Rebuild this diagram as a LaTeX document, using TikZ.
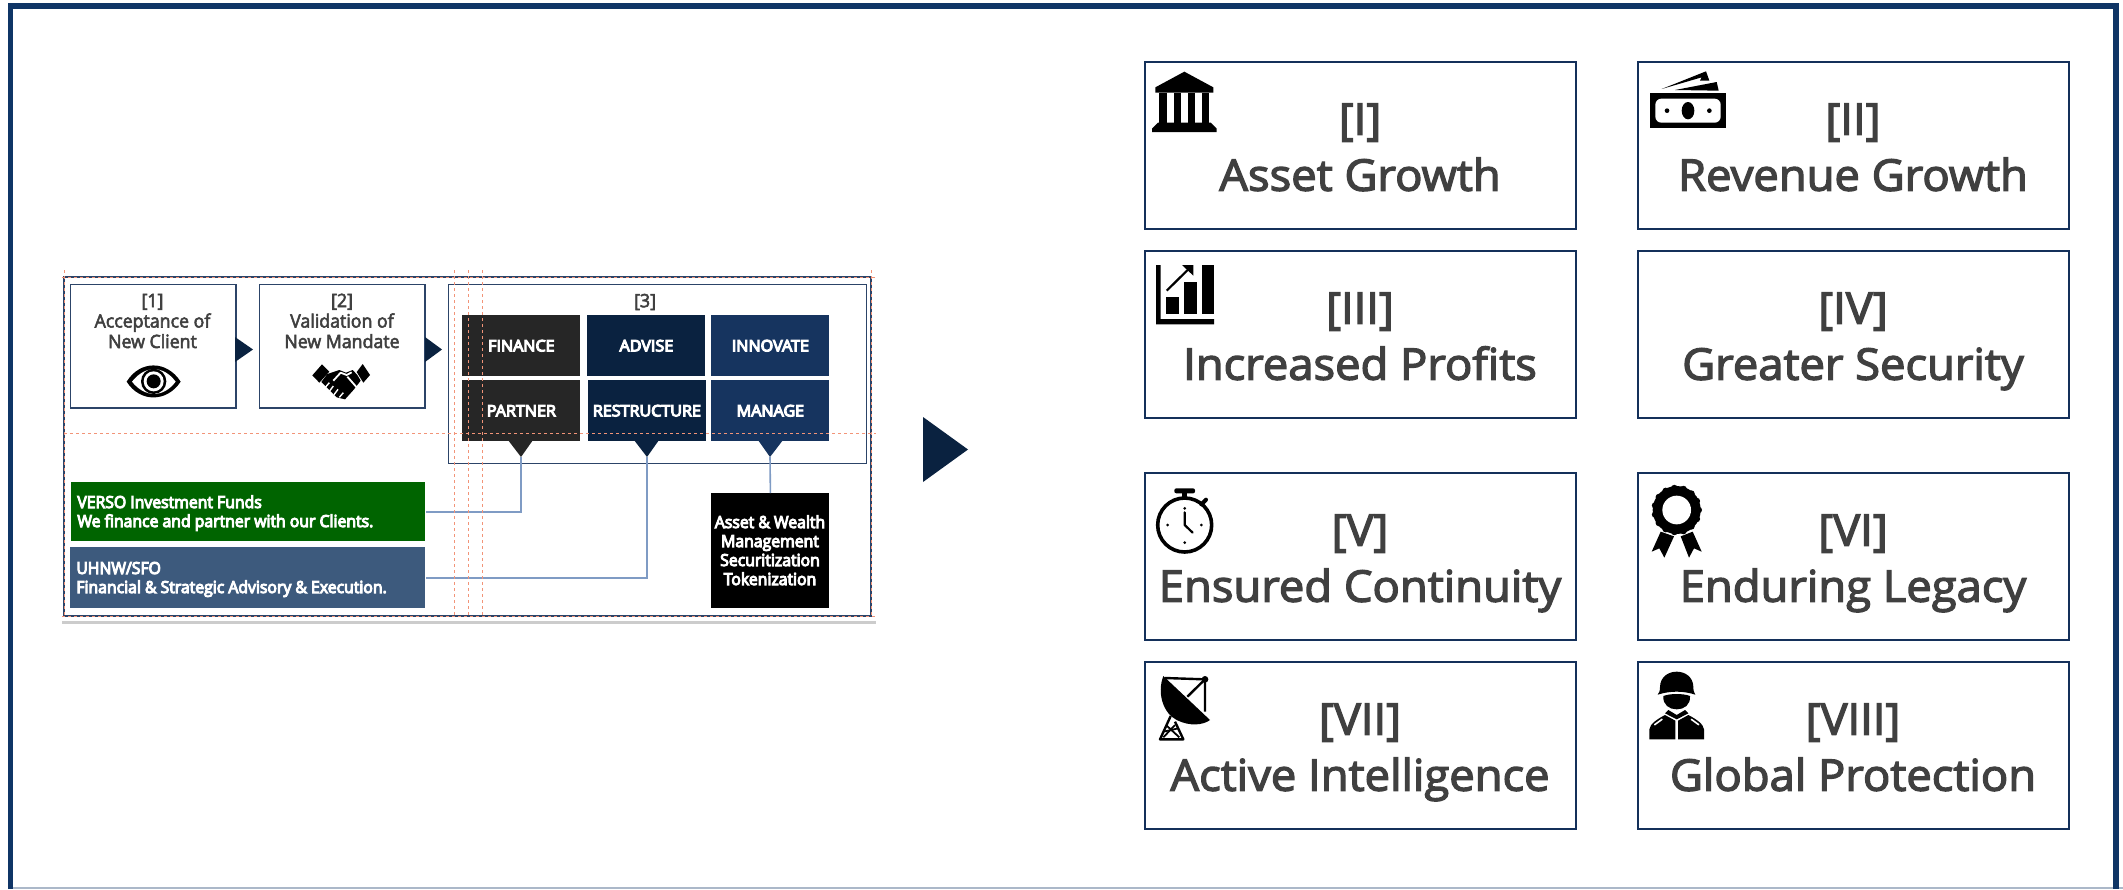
\documentclass[tikz,border=0pt]{standalone}
\usepackage{fontspec}
\setmainfont[FakeStretch=1.04,FakeBold=3]{Open Sans}
\newfontfamily\stepfont[FakeStretch=0.965,FakeBold=3]{Open Sans}
\newfontfamily\cellfont[FakeStretch=1.02,FakeBold=7]{Open Sans}
\newfontfamily\panelfont[FakeStretch=0.95,FakeBold=6]{Open Sans}
\usetikzlibrary{calc}
\definecolor{navy}{HTML}{0A2240}
\definecolor{framecol}{HTML}{0F3566}
\definecolor{cardline}{HTML}{14305A}
\definecolor{smallline}{HTML}{2C4468}
\definecolor{txtgray}{HTML}{404040}
\definecolor{cellblack}{HTML}{262626}
\definecolor{celldark}{HTML}{0A2240}
\definecolor{cellblue}{HTML}{16345F}
\definecolor{versogreen}{HTML}{006400}
\definecolor{uhnwblue}{HTML}{3D5A7D}
\definecolor{wire}{HTML}{7F9BC4}
\definecolor{guide}{HTML}{F29478}
\tikzset{
  cardbox/.style={draw=cardline,line width=1.2pt,fill=white,anchor=north west,inner sep=0pt,minimum width=215.6pt,minimum height=83.6pt},
  cardtext/.style={align=center,text=txtgray,inner sep=0pt,font=\fontsize{21.8}{28}\selectfont},
  stepbox/.style={draw=smallline,line width=.7pt,fill=white,anchor=north west,inner sep=0pt,minimum width=82.6pt,minimum height=61.6pt},
  steptext/.style={align=center,text=txtgray,inner sep=0pt,font=\fontsize{9.2}{10.25}\stepfont},
  cell/.style={anchor=north west,inner sep=0pt,minimum width=59pt,minimum height=30.3pt,text=white,font=\fontsize{7.9}{9.5}\cellfont},
  panel/.style={anchor=north west,inner sep=0pt},
  paneltext/.style={text=white,inner sep=0pt,font=\fontsize{8.3}{9.5}\panelfont},
  wireline/.style={draw=wire,line width=.8pt},
  guideline/.style={draw=guide,line width=.45pt,dash pattern=on 1.6pt off 1.4pt},
  zoomicon/.style={x=0.16667pt,y=-0.16667pt}
}
\newcommand{\card}[5]{%
  \node[cardbox] (#1) at (#2,#3) {};
  \node[cardtext] (#1t) at ({#2+216.5},{#3+91}) {\strut #4\\\strut #5};
}
\begin{document}
\begin{tikzpicture}[x=0.5pt,y=-0.5pt]
\useasboundingbox (0,0) rectangle (2123,889);
\fill[white] (0,0) rectangle (2123,889);
% outer frame
\draw[draw=framecol!35!white,line width=1pt] (13,888) -- (2123,888);
\draw[framecol,line width=2.9pt] (10.5,889) -- (10.5,6) -- (2116,6) -- (2116,889);

% lower gray rule of the left panel
\draw[draw=black!20,line width=1.5pt] (62,622) -- (876,622);
% left panel frame
\draw[draw=smallline,line width=.6pt] (64,277) rectangle (871,616);

% steps
\node[stepbox] (s1) at (70,284) {};
\node[stepbox] (s2) at (259,284) {};
\node[steptext] (s1t) at (152.5,323.4) {\strut [1]\\\strut Acceptance of\\\strut New Client};
\node[steptext] (s2t) at (342,323.4) {\strut [2]\\\strut Validation of\\\strut New Mandate};
\fill[navy] (235,337) -- (253,349.5) -- (235,362) -- cycle;
\fill[navy] (425,337) -- (442,349.5) -- (425,362) -- cycle;
\node[draw=smallline,line width=.6pt,anchor=north west,inner sep=0pt,minimum width=209pt,minimum height=89.5pt] (s3) at (448,284) {};
\node[steptext] (s3t) at (645,302) {[3]};

% cells
\node[cell,fill=cellblack] (finance) at (462,315) {FINANCE};
\node[cell,fill=celldark] (advise) at (587,315) {ADVISE};
\node[cell,fill=cellblue] (innovate) at (711,315) {INNOVATE};
\node[cell,fill=cellblack] (partner) at (462,380) {PARTNER};
\node[cell,fill=celldark] (restructure) at (587.5,380) {RESTRUCTURE};
\node[cell,fill=cellblue] (manage) at (711,380) {MANAGE};
\fill[cellblack] (508,440) -- (533,440) -- (521,457) -- cycle;
\fill[celldark] (634,440) -- (659,440) -- (647,457) -- cycle;
\fill[cellblue] (758,440) -- (783,440) -- (770,457) -- cycle;
\coordinate (tipA) at (521,457);
\coordinate (tipB) at (647,457);
\coordinate (tipC) at (770,457);

% panels
\node[panel,fill=versogreen,minimum width=177pt,minimum height=29.5pt] (verso) at (71,482) {};
\node[panel,fill=uhnwblue,minimum width=177.5pt,minimum height=30.5pt] (uhnw) at (70,547) {};
\node[panel,fill=black,minimum width=59pt,minimum height=57.5pt] (wealth) at (711,493) {};
\node[paneltext,anchor=west,align=left] (versot) at (77,513.7) {\strut VERSO Investment Funds\\\strut We finance and partner with our Clients.};
\node[paneltext,anchor=west,align=left] (uhnwt) at (76,579.7) {\strut UHNW/SFO\\\strut Financial \& Strategic Advisory \& Execution.};
\node[paneltext,align=center] (wealtht) at (770,552.7) {\strut Asset \& Wealth\\\strut Management\\\strut Securitization\\\strut Tokenization};

% connectors
\draw[wireline] (tipA) |- (verso.east);
\draw[wireline] (tipB) |- (uhnw.east);
\draw[wireline] (tipC) -- (wealth.north);

% guides
\draw[guideline] (62,277) -- (876,277);
\draw[guideline] (64,433) -- (876,433);
\draw[guideline] (62,616.5) -- (876,616.5);
\draw[guideline] (64,270) -- (64,617);
\draw[guideline] (454,270) -- (454,617);
\draw[guideline] (468,270) -- (468,617);
\draw[guideline] (482,270) -- (482,617);
\draw[guideline] (871.5,270) -- (871.5,617);

% big arrow
\fill[navy] (923,417) -- (968,449.5) -- (923,482) -- cycle;

% cards
\card{c1}{1143.5}{60.5}{[I]}{Asset Growth}
\card{c2}{1636.5}{60.5}{[II]}{Revenue Growth}
\card{c3}{1143.5}{249.5}{[III]}{Increased Profits}
\card{c4}{1636.5}{249.5}{[IV]}{Greater Security}
\card{c5}{1143.5}{471.5}{[V]}{Ensured Continuity}
\card{c6}{1636.5}{471.5}{[VI]}{Enduring Legacy}
\card{c7}{1143.5}{660.5}{[VII]}{Active Intelligence}
\card{c8}{1636.5}{660.5}{[VIII]}{Global Protection}

% eye
\begin{scope}[shift={(50,260)},zoomicon]
\fill[black] (230,365) .. controls (270,300) and (350,300) .. (392,365) .. controls (350,428) and (270,428) .. cycle;
\fill[white] (246,365) .. controls (285,315) and (340,315) .. (377,365) .. controls (340,414) and (285,414) .. cycle;
\fill[black] (311,364) circle (38);
\fill[white] (311,364) circle (30);
\fill[black] (311,364) circle (21);
\end{scope}
% handshake
\begin{scope}[shift={(50,260)},zoomicon]
\fill[black] (787,346) -- (816,313) -- (838,335) -- (808,368) -- cycle;
\fill[black] (920,336) -- (938,312) -- (960,345) -- (940,368) -- cycle;
\fill[black] (832,342) -- (868,330) -- (888,338) -- (908,330) -- (922,345) -- (932,362) -- (912,388) -- (885,418) -- (860,412) -- (824,376) -- (814,366) -- cycle;
\draw[white,line width=.9pt,line join=round] (850,362) -- (872,338) -- (890,345) -- (905,337);
\draw[white,line width=.9pt] (892,350) -- (920,382);
\draw[white,line width=.7pt] (838,368) -- (826,382);
\draw[white,line width=.7pt] (850,378) -- (838,394);
\draw[white,line width=.7pt] (864,388) -- (852,404);
\draw[white,line width=.7pt] (880,398) -- (868,412);
\end{scope}
% bank
\begin{scope}[shift={(1130,50)},zoomicon]
\fill[black] (163,65) -- (250,112) -- (250,128) -- (76,128) -- (76,112) -- cycle;
\fill[black] (88,128) rectangle (110,220);
\fill[black] (132,128) rectangle (152,220);
\fill[black] (174,128) rectangle (194,220);
\fill[black] (216,128) rectangle (238,220);
\fill[black] (84,218) -- (242,218) -- (260,236) -- (260,246) -- (66,246) -- (66,236) -- cycle;
\end{scope}
% banknotes
\begin{scope}[shift={(1620,50)},zoomicon]
\fill[black] (90,130) rectangle (318,233);
\fill[white,rounded corners=3pt] (106,146) rectangle (302,218);
\fill[black] (204,182) ellipse (19 and 26);
\fill[black] (141,182) circle (7);
\fill[black] (268,182) circle (7);
\fill[black] (125,117) -- (258,64) -- (268,92) -- (240,92) -- (245,82) -- cycle;
\fill[black] (165,120) -- (290,96) -- (296,122) -- cycle;
\end{scope}
% chart
\begin{scope}[shift={(1130,245)},zoomicon]
\fill[black] (78,60) -- (92,60) -- (92,222) -- (252,222) -- (252,238) -- (78,238) -- cycle;
\fill[black] (108,156) rectangle (146,206);
\fill[black] (162,112) rectangle (200,206);
\fill[black] (216,60) rectangle (252,206);
\draw[black,line width=1.1pt] (110,137) -- (182,66);
\fill[black] (156,60) -- (190,60) -- (190,92) -- cycle;
\end{scope}
% stopwatch
\begin{scope}[shift={(1130,465)},zoomicon]
\draw[black,line width=1.8pt] (164,180) circle (81);
\fill[black,rounded corners=1pt] (133,70) rectangle (195,85);
\fill[black] (155,85) rectangle (172,102);
\draw[black,line width=2pt,line cap=round] (214,118) -- (228,104);
\foreach \px/\py in {164/130,113/180,214/180,164/233} {\fill[black] (\px,\py) circle (4.5);}
\draw[black,line width=1.1pt,line cap=round,line join=round] (164,142) -- (164,180) -- (188,203);
\end{scope}
% rosette
\begin{scope}[shift={(1620,465)},zoomicon]
\fill[black] (122,200) -- (162,214) -- (133,278) -- (118,250) -- (95,260) -- cycle;
\fill[black] (182,214) -- (218,200) -- (245,260) -- (222,250) -- (207,278) -- cycle;
\fill[black] (170,135) circle (72);
\foreach \a in {0,24,...,336} {\fill[black] ({170+66*cos(\a)},{135+66*sin(\a)}) circle (10);}
\fill[white] (170,135) circle (43);
\end{scope}
% dish
\begin{scope}[shift={(1130,650)},zoomicon]
\fill[black] (100,78) .. controls (80,130) and (100,190) .. (140,210) .. controls (180,230) and (220,225) .. (240,210) -- cycle;
\draw[black,line width=1.2pt] (105,84) -- (225,88) -- (225,185);
\draw[black,line width=1.2pt] (225,88) -- (172,140);
\fill[black] (225,88) circle (10);
\draw[black,line width=1.2pt,line join=round] (122,198) -- (90,268) -- (160,268) -- (135,215);
\draw[black,line width=.9pt] (100,245) -- (145,235);
\draw[black,line width=.9pt] (108,225) -- (148,262);
\draw[black,line width=.9pt] (135,225) -- (100,262);
\end{scope}
% soldier
\begin{scope}[shift={(1620,650)},zoomicon]
\fill[black] (113,134) .. controls (118,128) and (120,122) .. (120,110) .. controls (122,50) and (218,50) .. (220,110) .. controls (220,122) and (222,128) .. (226,134) .. controls (190,122) and (150,122) .. cycle;
\fill[black] (130,138) .. controls (150,130) and (190,130) .. (210,138) .. controls (212,165) and (192,178) .. (170,178) .. controls (148,178) and (128,165) .. cycle;
\fill[black] (88,268) -- (88,238) .. controls (90,222) and (110,208) .. (135,195) -- (166,212) -- (166,268) -- cycle;
\fill[black] (252,268) -- (252,238) .. controls (250,222) and (230,208) .. (205,195) -- (174,212) -- (174,268) -- cycle;
\fill[black] (145,180) -- (170,195) -- (195,180) -- (205,190) -- (170,208) -- (135,190) -- cycle;
\draw[white,line width=.8pt,line cap=round] (104,224) -- (126,208);
\draw[white,line width=.8pt,line cap=round] (236,224) -- (214,208);
\end{scope}
\end{tikzpicture}
\end{document}
